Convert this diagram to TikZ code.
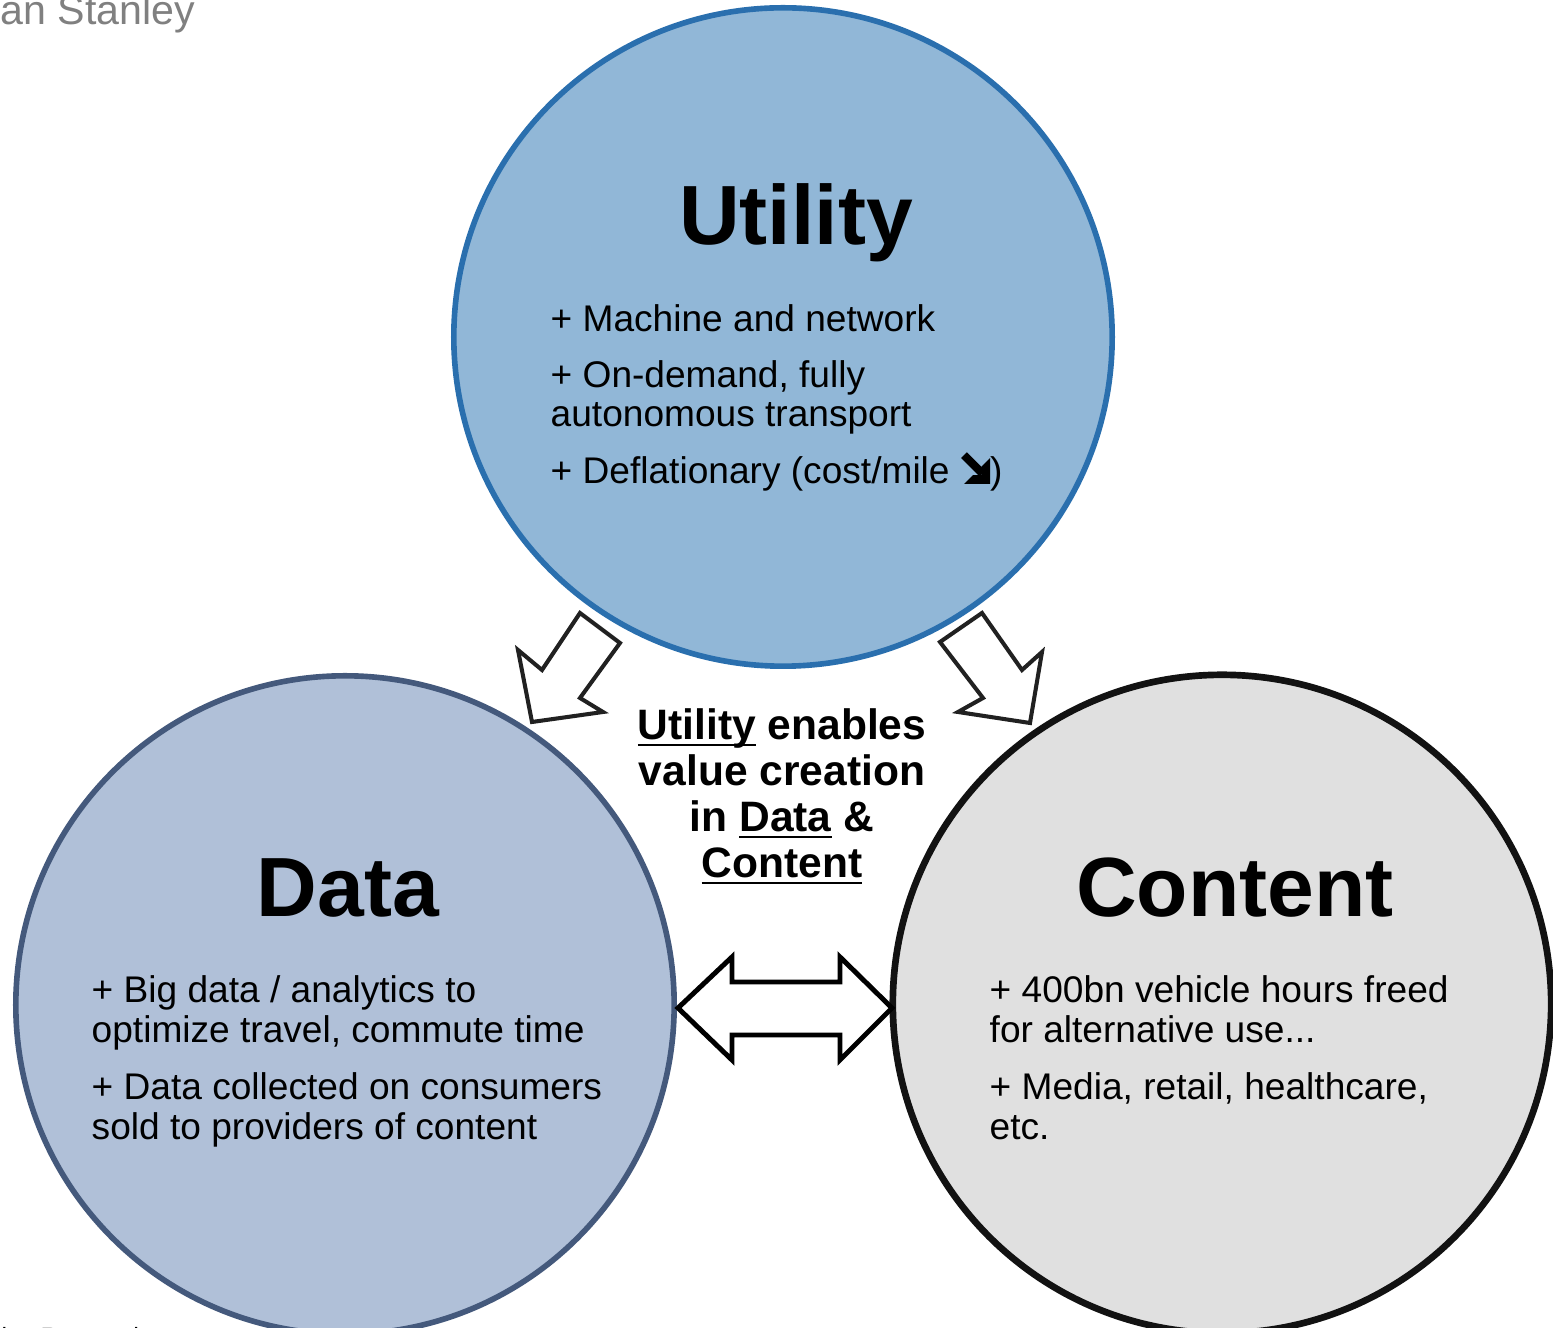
\documentclass[tikz,border=0pt]{standalone}
\usepackage{fontspec}
\setmainfont{Liberation Sans}
\definecolor{utilfill}{RGB}{145,183,215}
\definecolor{utilline}{RGB}{42,111,174}
\definecolor{datafill}{RGB}{176,192,216}
\definecolor{dataline}{RGB}{68,89,124}
\definecolor{contfill}{RGB}{224,224,224}
\definecolor{logogray}{RGB}{128,128,128}
\newcommand{\downright}{\tikz[baseline=0pt, x=1pt, y=1pt]{%
    \draw[line width=2.3pt] (0.6,8.2)--(5.8,3);
    \fill (0.6,0)--(8,0)--(8,7.4)--(5.5,4.9)--(5.5,2.5)--(3.1,2.5)--cycle;}}
\tikzset{
  bubble/.style={circle, minimum size=6.58cm, inner sep=0pt, line width=1.6pt},
  title/.style={anchor=base, inner sep=0pt, font=\fontsize{23.9}{26}\selectfont\bfseries},
  body/.style={anchor=base west, inner sep=0pt, font=\fontsize{10.55}{11.4}\selectfont},
  mid/.style={anchor=base, inner sep=0pt, font=\fontsize{12.1}{13}\selectfont\bfseries},
  blockarrow/.style={draw=black!87, fill=white, line width=1.15pt, line join=miter}
}
\begin{document}
\begin{tikzpicture}[x=0.01cm, y=-0.01cm]
    \useasboundingbox (0,0) rectangle (1553,1328);
    \node[bubble, draw=utilline, fill=utilfill] (utility) at (783,337) {}; %utility
    \node[bubble, draw=dataline, fill=datafill] (data) at (345,1005) {}; %data
    \node[bubble, draw=black!93, fill=contfill, line width=1.9pt] (content) at (1222,1004) {}; %content
    % titles
    \node[title] (utiltitle) at (796,245) {Utility};
    \node[title] (datatitle) at (348,917) {Data};
    \node[title] (conttitle) at (1235,917) {Content};
    % utility text
    \node[body] (ut1) at (550,332) {+ Machine and network};
    \node[body] (ut2) at (550,388) {+ On-demand, fully};
    \node[body] (ut3) at (550,427) {autonomous transport};
    \node[body] (ut4) at (550,484) {+ Deflationary (cost/mile \downright)};
    % data text
    \node[body] (dt1) at (91,1003) {+ Big data / analytics to};
    \node[body] (dt2) at (91,1043) {optimize travel, commute time};
    \node[body] (dt3) at (91,1100) {+ Data collected on consumers};
    \node[body] (dt4) at (91,1140) {sold to providers of content};
    % content text
    \node[body] (ct1) at (989,1003) {+ 400bn vehicle hours freed};
    \node[body] (ct2) at (989,1043) {for alternative use...};
    \node[body] (ct3) at (989,1100) {+ Media, retail, healthcare,};
    \node[body] (ct4) at (989,1140) {etc.};
    % middle text
    \node[mid] (mid1) at (782,740) {\underline{\smash{Utility}} enables};
    \node[mid] (mid2) at (782,786) {value creation};
    \node[mid] (mid3) at (782,832) {in \underline{\smash{Data}} \&};
    \node[mid] (mid4) at (782,878) {\underline{\smash{Content}}};
    % block arrows
    \draw[blockarrow] (580,613)--(620,643)--(580,698)--(603,712)--(532,722)--(518,650)--(542,670)--cycle; %to data
    \draw[blockarrow] (982,613)--(1022,670)--(1042,652)--(1030,723)--(958,712)--(983,698)--(940,642)--cycle; %to content
    \draw[blockarrow, draw=black, line width=1.4pt] (678,1008)--(732,957)--(732,982)--(840,982)--(840,957)--(892,1008)
        --(840,1060)--(840,1035)--(732,1035)--(732,1060)--cycle; %both ways
    % cut-off texts at the edges
    \node[anchor=base west, inner sep=0pt, text=logogray, font=\fontsize{11.7}{13}\selectfont] (logo) at (0,25) {an Stanley};
    \node[anchor=base west, inner sep=0pt, font=\fontsize{7.1}{8}\selectfont] (source) at (1,1346) {ley Research};
\end{tikzpicture}
\end{document}
